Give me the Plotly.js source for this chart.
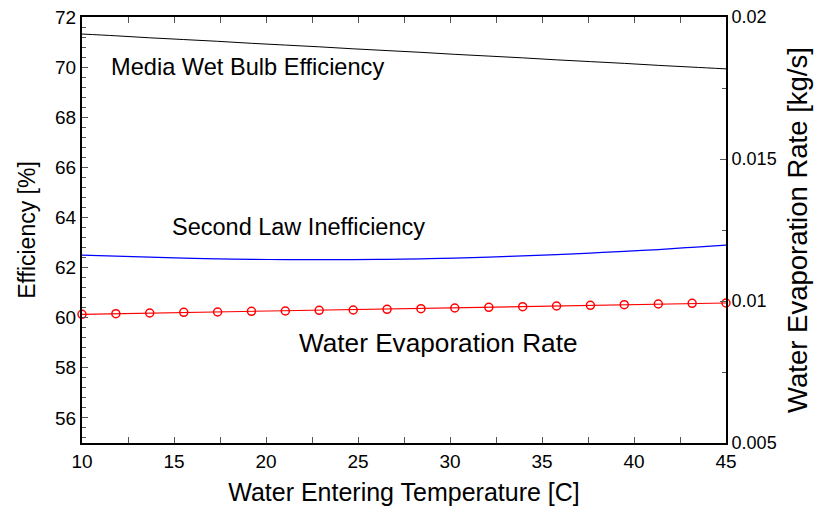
<!DOCTYPE html>
<html>
<head>
<meta charset="utf-8">
<script src="https://cdn.plot.ly/plotly-3.0.1.min.js"></script>
<style>html,body{margin:0;padding:0;background:#fff;}#chart{width:820px;height:513px;}</style>
</head>
<body>
<div id="chart"></div>
<script>
// Water entering temperature [C]
const temperature = [10, 11.84, 13.68, 15.53, 17.37, 19.21, 21.05, 22.89, 24.74, 26.58,
                     28.42, 30.26, 32.11, 33.95, 35.79, 37.63, 39.47, 41.32, 43.16, 45];
// Media wet bulb efficiency [%]
const mediaWetBulbEff = [71.32, 71.25, 71.17, 71.10, 71.03, 70.95, 70.88, 70.81, 70.73, 70.66,
                         70.59, 70.51, 70.44, 70.37, 70.29, 70.22, 70.15, 70.07, 70.00, 69.93];
// Second law inefficiency [%]
const secondLawIneff = [62.50, 62.46, 62.42, 62.38, 62.35, 62.33, 62.32, 62.32, 62.32, 62.33,
                        62.35, 62.38, 62.42, 62.47, 62.52, 62.58, 62.65, 62.72, 62.81, 62.90];
// Water evaporation rate [kg/s]
const evapRate = [0.009532, 0.009553, 0.009577, 0.009602, 0.009613, 0.009637, 0.009648, 0.009673, 0.009683, 0.009708,
                  0.009729, 0.009754, 0.009778, 0.009799, 0.009824, 0.009849, 0.009870, 0.009894, 0.009919, 0.009930];

const FONT = '"Liberation Sans", Arial, sans-serif';

const traces = [
  {x: temperature, y: mediaWetBulbEff, mode: 'lines', line: {color: '#000000', width: 1, shape: 'spline'}, yaxis: 'y', name: 'Media Wet Bulb Efficiency'},
  {x: temperature, y: secondLawIneff, mode: 'lines', line: {color: '#0000ff', width: 1.2, shape: 'spline'}, yaxis: 'y', name: 'Second Law Inefficiency'},
  {x: temperature, y: evapRate, mode: 'lines+markers', line: {color: '#ff0000', width: 1.2},
   marker: {symbol: 'circle-open', size: 8, color: '#ff0000', line: {width: 1.5, color: '#ff0000'}},
   yaxis: 'y2', name: 'Water Evaporation Rate', cliponaxis: false}
];

const layout = {
  width: 820, height: 513,
  margin: {l: 82, r: 94, t: 17, b: 70},
  paper_bgcolor: '#ffffff', plot_bgcolor: '#ffffff',
  showlegend: false,
  font: {family: FONT, size: 19, color: '#000000'},
  xaxis: {
    range: [10, 45], dtick: 5, tick0: 10,
    showgrid: false, zeroline: false,
    showline: true, linecolor: '#000', linewidth: 2, mirror: 'allticks',
    ticks: 'inside', ticklen: 6, tickwidth: 1, tickcolor: '#555',
    minor: {dtick: 2.5, ticks: 'inside', ticklen: 4, tickcolor: '#555', showgrid: false},
    tickfont: {family: FONT, size: 19},
    title: {text: 'Water Entering Temperature [C]', font: {family: FONT, size: 25}, standoff: 13}
  },
  yaxis: {
    range: [55, 72], dtick: 2, tick0: 56,
    showgrid: false, zeroline: false,
    showline: true, linecolor: '#000', linewidth: 2,
    ticks: 'inside', ticklen: 6, tickwidth: 1, tickcolor: '#555',
    minor: {dtick: 0.4, tick0: 56, ticks: 'inside', ticklen: 4, tickcolor: '#555', showgrid: false},
    tickfont: {family: FONT, size: 19},
    title: {text: 'Efficiency [%]', font: {family: FONT, size: 23}, standoff: 13}
  },
  yaxis2: {
    overlaying: 'y', side: 'right',
    range: [0.005, 0.02], tickvals: [0.005, 0.01, 0.015, 0.02], ticktext: ['0.005', '0.01', '0.015', '0.02'],
    showgrid: false, zeroline: false,
    showline: true, linecolor: '#000', linewidth: 2,
    ticks: 'inside', ticklen: 6, tickwidth: 1, tickcolor: '#555',
    minor: {dtick: 0.0025, tick0: 0.005, ticks: 'inside', ticklen: 4, tickcolor: '#555', showgrid: false},
    tickfont: {family: FONT, size: 18},
    title: {text: 'Water Evaporation Rate [kg/s]', font: {family: FONT, size: 27.5}, standoff: 12}
  },
  annotations: [
    {text: 'Media Wet Bulb Efficiency', x: 11.45, y: 70.0, xref: 'x', yref: 'y', xanchor: 'left', yanchor: 'middle', showarrow: false, font: {family: FONT, size: 23.6}},
    {text: 'Second Law Inefficiency', x: 14.8, y: 63.6, xref: 'x', yref: 'y', xanchor: 'left', yanchor: 'middle', showarrow: false, font: {family: FONT, size: 23.5}},
    {text: 'Water Evaporation Rate', x: 21.7, y: 59.0, xref: 'x', yref: 'y', xanchor: 'left', yanchor: 'middle', showarrow: false, font: {family: FONT, size: 26.2}}
  ]
};

Plotly.newPlot('chart', traces, layout, {staticPlot: true, displayModeBar: false});
</script>
</body>
</html>
